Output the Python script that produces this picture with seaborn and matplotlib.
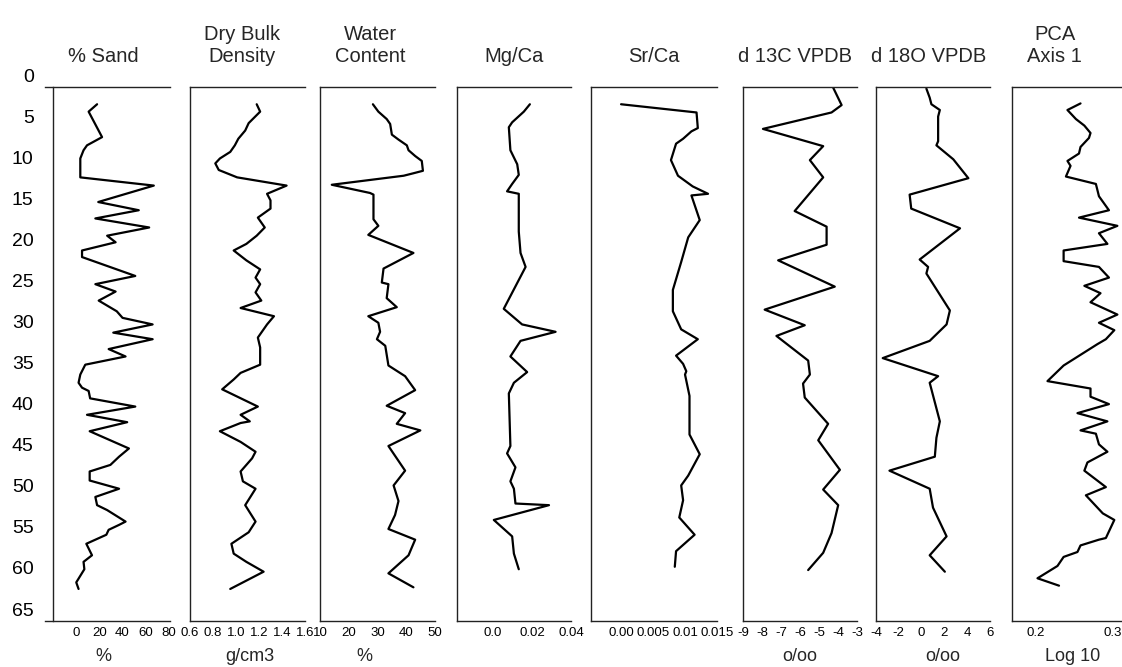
import matplotlib
matplotlib.use("Agg")
import matplotlib.pyplot as plt
import matplotlib.transforms as mtransforms
from matplotlib.ticker import MultipleLocator
import seaborn as sns

# ---- data (depth in cm) ----
sand_depth = [2.1, 3.0, 6.1, 7.1, 7.7, 8.7, 11.0, 12.0, 14.0, 15.0, 16.0, 17.1, 18.1, 18.9, 19.9, 20.7,
              23.0, 24.0, 24.9, 26.0, 27.3, 28.1, 28.9, 29.9, 30.7, 31.9, 32.8, 33.8, 35.0, 36.0, 36.6,
              37.0, 37.9, 38.9, 39.9, 40.8, 41.9, 44.0, 45.0, 46.0, 46.8, 47.9, 48.9, 49.9, 50.9, 51.5,
              52.9, 53.3, 53.9, 54.5, 55.6, 57.0, 57.8, 58.7, 59.5, 60.3, 61.1]
sand_pct = [18, 10.7, 22.3, 9.3, 6.3, 3.5, 3.5, 67, 19, 54, 16.5, 63, 26.7, 34, 5, 5,
            51, 16.5, 34, 19.4, 35, 40, 66, 32, 66, 28, 42.6, 7.8, 3.5, 2, 5,
            10.7, 12, 51, 9.3, 44, 11.6, 45.5, 37, 29.5, 11.6, 11.6, 37, 16.5, 18, 26.7,
            42.6, 37, 28, 26, 8.7, 13.6, 6.3, 7, 3.5, 0, 2]

dbd_depth = [2.1, 3.0, 4.4, 5.3, 6.3, 7.1, 7.9, 8.7, 9.3, 10.1, 11.0, 12.0, 13.0, 13.8, 14.8, 15.9,
             17.1, 18.1, 19.1, 19.9, 21.1, 22.2, 23.2, 24.0, 25.0, 26.0, 26.9, 27.9, 28.9, 30.5,
             31.7, 33.8, 34.8, 35.6, 36.8, 38.9, 39.9, 40.7, 40.9, 41.9, 43.2, 44.4, 45.2, 46.8,
             48.0, 48.9, 50.9, 52.9, 54.2, 55.6, 56.8, 57.8, 59.0, 61.1]
dbd = [1.18, 1.21, 1.11, 1.08, 1.02, 0.99, 0.95, 0.86, 0.82, 0.85, 1.01, 1.44, 1.27, 1.30, 1.30, 1.19,
       1.25, 1.18, 1.09, 0.98, 1.09, 1.21, 1.17, 1.21, 1.17, 1.22, 1.04, 1.33, 1.27, 1.19,
       1.21, 1.21, 1.04, 0.98, 0.88, 1.19, 1.04, 1.12, 1.04, 0.86, 1.04, 1.17, 1.14, 1.04,
       1.06, 1.17, 1.08, 1.17, 1.11, 0.96, 0.98, 1.09, 1.24, 0.95]

water_depth = [2.1, 3.0, 3.9, 4.5, 5.8, 6.4, 7.1, 7.7, 8.4, 9.0, 10.2, 10.5, 10.8, 11.9, 12.9, 13.1,
               16.1, 16.9, 18.0, 20.2, 22.1, 23.8, 24.0, 25.7, 26.8, 27.9, 28.7, 29.8, 30.7, 31.5,
               33.9, 35.2, 36.9, 38.8, 39.7, 41.0, 41.8, 43.7, 46.7, 48.5, 50.4, 52.1, 53.8, 55.1,
               56.0, 57.0, 59.2, 60.9]
water = [28.4, 30.3, 33.2, 34.4, 35.0, 37.3, 40.2, 40.8, 43.1, 45.4, 45.8, 42.5, 39.1, 14.1, 27.4, 28.6,
         28.6, 30.3, 26.8, 42.5, 32.1, 31.5, 33.8, 33.2, 36.7, 26.8, 30.3, 30.9, 29.8, 32.7,
         33.8, 39.6, 43.1, 33.2, 39.6, 36.7, 44.9, 33.8, 39.6, 35.6, 37.3, 36.1, 33.8, 43.1,
         42.0, 40.8, 33.8, 42.5]

mgca_depth = [2.1, 3.0, 4.3, 4.9, 7.7, 9.4, 10.7, 11.8, 12.7, 13.0, 17.6, 20.2, 21.9, 27.0, 28.9, 29.8,
              30.9, 32.8, 34.7, 36.0, 37.3, 43.7, 44.6, 46.3, 48.0, 48.9, 50.7, 50.9, 52.7, 54.7,
              56.8, 58.7]
mgca = [0.0189, 0.0158, 0.0098, 0.0081, 0.0089, 0.0124, 0.0132, 0.0098, 0.0072, 0.0132, 0.0132, 0.0141,
        0.0167, 0.0055, 0.0149, 0.0321, 0.0141, 0.0089, 0.0175, 0.0107, 0.0081, 0.0089, 0.0072,
        0.0115, 0.0089, 0.0107, 0.0115, 0.0287, 0.0004, 0.0098, 0.0107, 0.0132]

srca_depth = [2.1, 3.1, 5.0, 5.4, 6.3, 6.9, 8.9, 10.8, 12.1, 13.0, 13.2, 16.2, 18.3, 21.3, 24.7, 27.3,
              29.5, 30.7, 32.7, 33.7, 34.6, 35.0, 37.6, 42.3, 44.7, 47.3, 48.5, 50.3, 52.4, 54.5,
              56.5, 58.4]
srca = [0.0, 0.0118, 0.0120, 0.0110, 0.0097, 0.0086, 0.0078, 0.0089, 0.0112, 0.0136, 0.0110, 0.0123,
        0.0105, 0.0094, 0.0081, 0.0081, 0.0094, 0.0120, 0.0086, 0.0097, 0.0102, 0.0100, 0.0107,
        0.0107, 0.0123, 0.0105, 0.0094, 0.0097, 0.0091, 0.0115, 0.0086, 0.0084]

c13_depth = [0.1, 2.2, 3.1, 5.1, 7.2, 8.9, 11.0, 15.1, 17.0, 19.2, 21.1, 24.3, 27.1, 29.0, 30.3, 33.3,
             35.0, 36.1, 37.8, 41.0, 43.0, 46.6, 49.0, 50.9, 54.3, 56.7, 58.8]
c13 = [-4.25, -3.81, -4.34, -7.95, -4.78, -5.48, -4.78, -6.28, -4.60, -4.60, -7.15, -4.17, -7.86,
       -5.75, -7.24, -5.57, -5.48, -5.84, -5.75, -4.52, -5.04, -3.90, -4.78, -3.99, -4.34, -4.78, -5.57]

o18_depth = [0.2, 1.3, 2.1, 2.8, 3.6, 6.6, 7.1, 8.8, 11.1, 13.1, 14.8, 17.2, 21.0, 21.9, 22.7, 27.2,
             28.9, 30.9, 33.0, 35.2, 36.0, 40.7, 42.7, 45.0, 46.7, 48.9, 51.2, 54.7, 57.0, 59.0]
o18 = [0.42, 0.71, 0.86, 1.60, 1.45, 1.45, 1.30, 2.78, 4.10, -1.05, -0.91, 3.37, -0.17, 0.57, 0.42,
       2.48, 2.19, 0.71, -3.41, 1.45, 0.71, 1.60, 1.30, 1.16, -2.82, 0.71, 1.00, 2.19, 0.71, 2.04]

pca_depth = [2.0, 2.8, 3.9, 4.7, 5.6, 6.2, 7.3, 8.1, 9.0, 9.6, 10.9, 11.8, 13.3, 15.0, 15.9, 16.9,
             17.8, 19.1, 19.9, 21.2, 21.9, 23.2, 24.2, 25.1, 26.2, 27.7, 28.7, 29.6, 30.7, 31.3,
             33.9, 35.8, 36.7, 37.7, 38.6, 39.7, 40.7, 41.8, 42.2, 43.5, 44.4, 45.7, 46.7, 48.7,
             49.7, 51.9, 52.7, 54.9, 55.1, 55.8, 56.6, 57.2, 58.3, 59.8, 60.7]
pca = [0.258, 0.241, 0.252, 0.263, 0.271, 0.269, 0.258, 0.256, 0.241, 0.245, 0.239, 0.278, 0.282,
       0.295, 0.256, 0.306, 0.282, 0.293, 0.236, 0.236, 0.282, 0.295, 0.263, 0.284, 0.271, 0.306,
       0.282, 0.302, 0.291, 0.280, 0.236, 0.215, 0.271, 0.271, 0.295, 0.254, 0.293, 0.258, 0.278,
       0.282, 0.293, 0.267, 0.263, 0.291, 0.265, 0.287, 0.302, 0.291, 0.282, 0.258, 0.254, 0.236,
       0.228, 0.202, 0.230]

titles = ["% Sand", "Dry Bulk\nDensity", "Water\nContent", "Mg/Ca", "Sr/Ca",
          "d 13C VPDB", "d 18O VPDB", "PCA\nAxis 1"]
units = ["%", "g/cm3", "%", "", "", "o/oo", "o/oo", "Log 10"]
xticks = [[0, 20, 40, 60, 80], [0.6, 0.8, 1.0, 1.2, 1.4, 1.6], [10, 20, 30, 40, 50],
          [0.0, 0.02, 0.04], [0.0, 0.005, 0.01, 0.015], [-9, -8, -7, -6, -5, -4, -3],
          [-4, -2, 0, 2, 4, 6], [0.2, 0.3]]
xticklabels = [["0", "20", "40", "60", "80"], ["0.6", "0.8", "1.0", "1.2", "1.4", "1.6"],
               ["10", "20", "30", "40", "50"], ["0.0", "0.02", "0.04"],
               ["0.00", "0.005", "0.01", "0.015"], ["-9", "-8", "-7", "-6", "-5", "-4", "-3"],
               ["-4", "-2", "0", "2", "4", "6"], ["0.2", "0.3"]]
depth_ticks = list(range(0, 66, 5))

series = [(sand_pct, sand_depth), (dbd, dbd_depth), (water, water_depth), (mgca, mgca_depth),
          (srca, srca_depth), (c13, c13_depth), (o18, o18_depth), (pca, pca_depth)]

# ---- layout ----
sns.set_style("white")
plt.rcParams["font.family"] = ["Liberation Sans", "DejaVu Sans"]

W, H = 1122, 667
fig = plt.figure(figsize=(W / 100, H / 100), dpi=100)
fig.patch.set_facecolor("white")

panel_px = [(45, 170), (190, 305), (320, 435), (457, 571), (591, 717), (743, 857), (876, 990), (1012, 1122)]
xlims = [(-27, 81), (0.6, 1.6), (10, 50), (-0.0185, 0.04), (-0.0047, 0.015), (-9, -3), (-4, 6), (0.1688, 0.312)]
title_x = [0.464, 0.452, 0.435, 0.5, 0.5, 0.456, 0.465, 0.39]
unit_x = [0.464, 0.52, 0.39, 0.5, 0.5, 0.5, 0.588, 0.555]
top_px, bot_px = 87, 621

for i, (vals, depth) in enumerate(series):
    l, r = panel_px[i]
    ax = fig.add_axes([l / W, 1 - bot_px / H, (r - l) / W, (bot_px - top_px) / H])
    sns.lineplot(x=vals, y=depth, ax=ax, sort=False, estimator=None, orient="y",
                 color="black", linewidth=1.6)
    ax.set_xlim(*xlims[i])
    ax.set_ylim(65, 0)
    ax.spines["right"].set_visible(False)
    for s in ["left", "top", "bottom"]:
        ax.spines[s].set_color("#222222")
        ax.spines[s].set_linewidth(1.0)

    ax.set_xticks(xticks[i])
    ax.set_xticklabels(xticklabels[i])
    ax.tick_params(axis="x", direction="inout", length=6, width=0.9, labelsize=9.5, pad=1,
                   colors="#222222", labelcolor="black")
    ax.set_title(titles[i], fontsize=14.5, pad=18, x=title_x[i])
    ax.set_xlabel(units[i], fontsize=13, labelpad=7)
    ax.xaxis.label.set_x(unit_x[i])
    ax.set_ylabel("")

    if i == 0:
        ax.spines["left"].set_position(("data", -20))
        ax.set_yticks(depth_ticks)
        ax.set_yticklabels([str(t) for t in depth_ticks])
        ax.yaxis.set_minor_locator(MultipleLocator(1))
        ax.tick_params(axis="y", which="major", direction="in", length=5, width=0.9,
                       labelsize=14, pad=14, colors="#222222", labelcolor="black")
        ax.tick_params(axis="y", which="minor", direction="in", length=2.5, width=0.8,
                       colors="#222222")
        # depth labels sit a little above their ticks in the original
        shift = mtransforms.ScaledTranslation(0, 12 / 100, fig.dpi_scale_trans)
        for lbl in ax.get_yticklabels():
            lbl.set_transform(lbl.get_transform() + shift)
    elif i == 7:
        ax.set_yticks(range(10, 61, 10))
        ax.set_yticklabels([])
        ax.tick_params(axis="y", direction="in", length=4, width=0.9, colors="#222222")
    else:
        ax.set_yticks([])

fig.savefig("out.png", dpi=100)
